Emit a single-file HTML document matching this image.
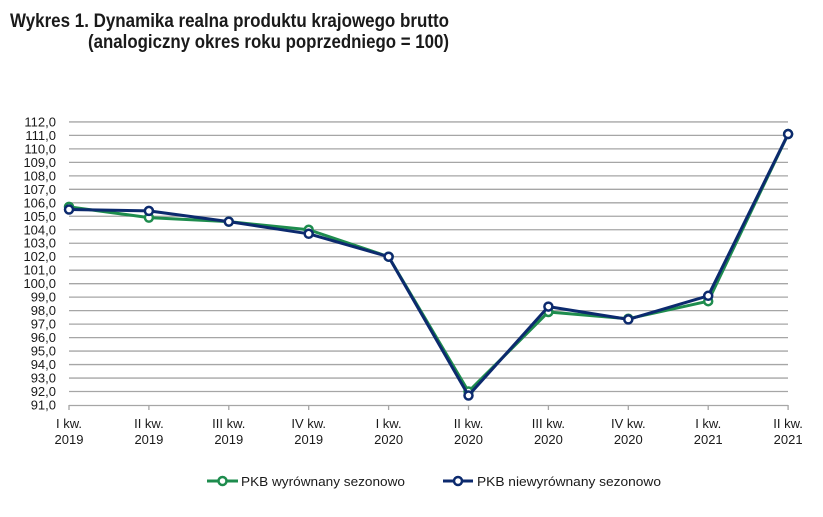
<!DOCTYPE html>
<html><head><meta charset="utf-8"><style>
html,body{margin:0;padding:0;background:#fff;}
svg{display:block;}
text{font-family:"Liberation Sans",sans-serif;fill:#1a1a1a;}
</style></head><body>
<svg width="823" height="517" viewBox="0 0 823 517" xmlns="http://www.w3.org/2000/svg">
<text x="10" y="27" font-size="19" font-weight="bold" textLength="439" lengthAdjust="spacingAndGlyphs">Wykres 1. Dynamika realna produktu krajowego brutto</text>
<text x="88" y="48" font-size="19" font-weight="bold" textLength="361" lengthAdjust="spacingAndGlyphs">(analogiczny okres roku poprzedniego = 100)</text>
<g stroke="#a6a6a6" stroke-width="1.3">
<line x1="69" x2="788" y1="121.92" y2="121.92"/><line x1="69" x2="788" y1="135.4" y2="135.4"/><line x1="69" x2="788" y1="148.88" y2="148.88"/><line x1="69" x2="788" y1="162.36" y2="162.36"/><line x1="69" x2="788" y1="175.84" y2="175.84"/><line x1="69" x2="788" y1="189.32" y2="189.32"/><line x1="69" x2="788" y1="202.8" y2="202.8"/><line x1="69" x2="788" y1="216.28" y2="216.28"/><line x1="69" x2="788" y1="229.76" y2="229.76"/><line x1="69" x2="788" y1="243.24" y2="243.24"/><line x1="69" x2="788" y1="256.72" y2="256.72"/><line x1="69" x2="788" y1="270.2" y2="270.2"/><line x1="69" x2="788" y1="283.68" y2="283.68"/><line x1="69" x2="788" y1="297.16" y2="297.16"/><line x1="69" x2="788" y1="310.64" y2="310.64"/><line x1="69" x2="788" y1="324.12" y2="324.12"/><line x1="69" x2="788" y1="337.6" y2="337.6"/><line x1="69" x2="788" y1="351.08" y2="351.08"/><line x1="69" x2="788" y1="364.56" y2="364.56"/><line x1="69" x2="788" y1="378.04" y2="378.04"/><line x1="69" x2="788" y1="391.52" y2="391.52"/>
<line x1="69" x2="788" y1="405.5" y2="405.5"/>
<line x1="69" x2="69" y1="405" y2="410"/><line x1="148.9" x2="148.9" y1="405" y2="410"/><line x1="228.8" x2="228.8" y1="405" y2="410"/><line x1="308.7" x2="308.7" y1="405" y2="410"/><line x1="388.6" x2="388.6" y1="405" y2="410"/><line x1="468.5" x2="468.5" y1="405" y2="410"/><line x1="548.4" x2="548.4" y1="405" y2="410"/><line x1="628.3" x2="628.3" y1="405" y2="410"/><line x1="708.2" x2="708.2" y1="405" y2="410"/><line x1="788.1" x2="788.1" y1="405" y2="410"/>
</g>
<g font-size="13" text-anchor="end">
<text x="56" y="126.4">112,0</text><text x="56" y="139.9">111,0</text><text x="56" y="153.4">110,0</text><text x="56" y="166.9">109,0</text><text x="56" y="180.3">108,0</text><text x="56" y="193.8">107,0</text><text x="56" y="207.3">106,0</text><text x="56" y="220.8">105,0</text><text x="56" y="234.3">104,0</text><text x="56" y="247.7">103,0</text><text x="56" y="261.2">102,0</text><text x="56" y="274.7">101,0</text><text x="56" y="288.2">100,0</text><text x="56" y="301.7">99,0</text><text x="56" y="315.1">98,0</text><text x="56" y="328.6">97,0</text><text x="56" y="342.1">96,0</text><text x="56" y="355.6">95,0</text><text x="56" y="369.1">94,0</text><text x="56" y="382.5">93,0</text><text x="56" y="396">92,0</text><text x="56" y="409.5">91,0</text>
</g>
<g font-size="13" text-anchor="middle">
<text x="69" y="428">I kw.</text><text x="69" y="444">2019</text>
<text x="148.9" y="428">II kw.</text><text x="148.9" y="444">2019</text>
<text x="228.8" y="428">III kw.</text><text x="228.8" y="444">2019</text>
<text x="308.7" y="428">IV kw.</text><text x="308.7" y="444">2019</text>
<text x="388.6" y="428">I kw.</text><text x="388.6" y="444">2020</text>
<text x="468.5" y="428">II kw.</text><text x="468.5" y="444">2020</text>
<text x="548.4" y="428">III kw.</text><text x="548.4" y="444">2020</text>
<text x="628.3" y="428">IV kw.</text><text x="628.3" y="444">2020</text>
<text x="708.2" y="428">I kw.</text><text x="708.2" y="444">2021</text>
<text x="788.1" y="428">II kw.</text><text x="788.1" y="444">2021</text>
</g>
<!-- green series -->
<polyline fill="none" stroke="#1e8c4e" stroke-width="3" stroke-linejoin="round" points="69,206.84 148.9,217.63 228.8,221.67 308.7,229.76 388.6,256.72 468.5,391.52 548.4,311.99 628.3,318.73 708.2,301.2 788.1,134.05"/>
<g fill="#fff" stroke="#1e8c4e" stroke-width="2.5">
<circle cx="69" cy="206.84" r="4"/><circle cx="148.9" cy="217.63" r="4"/><circle cx="228.8" cy="221.67" r="4"/><circle cx="308.7" cy="229.76" r="4"/><circle cx="388.6" cy="256.72" r="4"/><circle cx="468.5" cy="391.52" r="4"/><circle cx="548.4" cy="311.99" r="4"/><circle cx="628.3" cy="318.73" r="4"/><circle cx="708.2" cy="301.2" r="4"/><circle cx="788.1" cy="134.05" r="4"/>
</g>
<!-- blue series -->
<polyline fill="none" stroke="#0c2a6e" stroke-width="3" stroke-linejoin="round" points="69,209.54 148.9,210.89 228.8,221.67 308.7,233.8 388.6,256.72 468.5,395.56 548.4,306.6 628.3,319.4 708.2,295.81 788.1,134.05"/>
<g fill="#fff" stroke="#0c2a6e" stroke-width="2.5">
<circle cx="69" cy="209.54" r="4"/><circle cx="148.9" cy="210.89" r="4"/><circle cx="228.8" cy="221.67" r="4"/><circle cx="308.7" cy="233.8" r="4"/><circle cx="388.6" cy="256.72" r="4"/><circle cx="468.5" cy="395.56" r="4"/><circle cx="548.4" cy="306.6" r="4"/><circle cx="628.3" cy="319.4" r="4"/><circle cx="708.2" cy="295.81" r="4"/><circle cx="788.1" cy="134.05" r="4"/>
</g>
<!-- legend -->
<line x1="207" x2="238" y1="481" y2="481" stroke="#1e8c4e" stroke-width="3"/>
<circle cx="222.5" cy="481" r="4" fill="#fff" stroke="#1e8c4e" stroke-width="2.5"/>
<text x="241" y="486" font-size="13" textLength="164" lengthAdjust="spacingAndGlyphs">PKB wyrównany sezonowo</text>
<line x1="443" x2="473" y1="481" y2="481" stroke="#0c2a6e" stroke-width="3"/>
<circle cx="458" cy="481" r="4" fill="#fff" stroke="#0c2a6e" stroke-width="2.5"/>
<text x="477" y="486" font-size="13" textLength="184" lengthAdjust="spacingAndGlyphs">PKB niewyrównany sezonowo</text>
</svg>
</body></html>
